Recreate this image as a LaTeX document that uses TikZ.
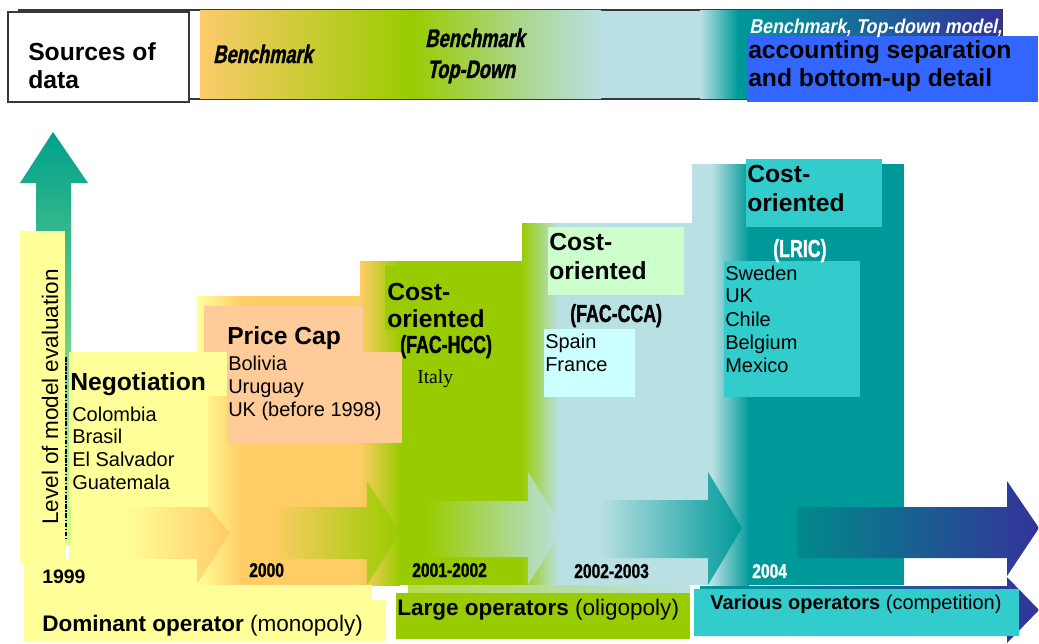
\documentclass[tikz,border=0pt]{standalone}
\usepackage{fontspec}
\setmainfont{Liberation Sans}
\newfontfamily\condf[FakeStretch=0.72,FakeBold=1.2]{Liberation Sans}
\newfontfamily\condsl[FakeStretch=0.72,FakeSlant=0.2,FakeBold=1.2]{Liberation Sans}
\newfontfamily\widesl[FakeStretch=0.89,FakeSlant=0.2]{Liberation Sans}
\newfontfamily\yearf[FakeStretch=0.78,FakeBold=1.2]{Liberation Sans}
\newfontfamily\serifrm{Liberation Serif}
\definecolor{yel}{HTML}{FFFF99}
\definecolor{org}{HTML}{FFCC66}
\definecolor{grn}{HTML}{99CC00}
\definecolor{lbl}{HTML}{B9E0E3}
\definecolor{teal}{HTML}{009999}
\definecolor{dblue}{HTML}{333399}
\definecolor{peach}{HTML}{FFCC99}
\definecolor{cyanb}{HTML}{33CCCC}
\definecolor{lgrn}{HTML}{CCFFCC}
\definecolor{lcyan}{HTML}{CCFFFF}
\definecolor{blueb}{HTML}{3366FF}
\definecolor{frame}{HTML}{383838}
\definecolor{barorg}{HTML}{FCCB6B}
\definecolor{barmid}{HTML}{ABD68C}
\tikzset{
  txt/.style={inner sep=0pt, anchor=base west, text=black},
  ttl/.style={txt, font=\fontsize{18.5pt}{22pt}\selectfont\bfseries},
  bod/.style={txt, font=\fontsize{15pt}{18pt}\selectfont},
  lab/.style={txt, font=\fontsize{16.9pt}{20pt}\selectfont},
  cnd/.style={txt, font=\condf\bfseries\fontsize{18.5pt}{21pt}\selectfont},
  yr/.style={txt, font=\yearf\bfseries\fontsize{15pt}{17pt}\selectfont},
  bm/.style={txt, font=\condsl\bfseries\fontsize{19pt}{22pt}\selectfont},
  wbm/.style={txt, text=white, font=\widesl\bfseries\fontsize{15pt}{18pt}\selectfont},
}
\begin{document}
\begin{tikzpicture}[x=0.75pt,y=-0.75pt]
\useasboundingbox (0,0) rectangle (1039,643);
\fill[white] (0,0) rectangle (1039,643);
% ---------- top bar ----------
\draw[line width=1pt, draw=frame, fill=white] (19,10) rectangle (1002,99);
\shade[left color=barorg, right color=grn] (200,10.6) rectangle (411,98.4);
\shade[left color=grn, right color=barmid] (410,10.6) rectangle (521,98.4);
\shade[left color=barmid, right color=lbl] (520,10.6) rectangle (601,98.4);
\fill[lbl] (600,10.6) rectangle (701,98.4);
\shade[left color=lbl, right color=teal] (700,10.6) rectangle (738,98.4);
\shade[left color=teal, right color=dblue] (737,10.6) rectangle (1001.5,98.4);
\draw[line width=1.2pt, draw=frame, fill=white] (8,12) rectangle (189,102);
\fill[blueb] (747,36) rectangle (1038,102);
\node[ttl] (src1) at (28,60) {Sources of};
\node[ttl] (src2) at (28,88) {data};
\node[bm] (bm1) at (213,63) {Benchmark};
\node[bm] (bm2) at (425,47) {Benchmark};
\node[bm] (bm3) at (427,78) {Top-Down};
\node[wbm] (bm4) at (749,33) {Benchmark, Top-down model,};
\node[ttl] (acc1) at (748,58) {accounting separation};
\node[ttl] (acc2) at (748,86) {and bottom-up detail};
% ---------- step columns ----------
\fill[yel] (69,352) rectangle (200,585);
\shade[left color=yel, right color=org] (197,296) rectangle (242,585);
\fill[org] (241,296) rectangle (362,585);
\shade[left color=org, right color=grn] (360,261) rectangle (400,585);
\fill[grn] (399,261) rectangle (530,585);
\shade[left color=grn, right color=lbl] (522,223) rectangle (558,585);
\fill[lbl] (557,223) rectangle (694,585);
\fill[lbl] (692,164) rectangle (713,585);
\shade[left color=lbl, right color=teal] (712,164) rectangle (749,585);
\fill[teal] (748,164) rectangle (904,585);
% ---------- vertical arrow ----------
\shade[top color=teal!92!green, bottom color=yel!85!green]
  (36,545) -- (36,183) -- (20,183) -- (53,132) -- (88,183) -- (71,183) -- (71,545) -- cycle;
% ---------- horizontal arrows ----------
\shade[left color=yel, right color=org]
  (124,507) -- (197,507) -- (197,493) -- (230,533) -- (197,584) -- (197,559) -- (124,559) -- cycle;
\shade[left color=org, right color=grn]
  (270,507) -- (367,507) -- (367,481) -- (400,532) -- (367,585) -- (367,559) -- (270,559) -- cycle;
\shade[left color=grn, right color=lbl]
  (425,501) -- (528,501) -- (528,472) -- (563,528) -- (528,585) -- (528,557) -- (425,557) -- cycle;
\shade[left color=lbl, right color=teal]
  (600,500) -- (708,500) -- (708,472) -- (742,528) -- (708,585) -- (708,558) -- (600,558) -- cycle;
\shade[left color=teal!90!black, right color=dblue]
  (797,507) -- (1007,507) -- (1007,481) -- (1039,528) -- (1007,576) -- (1007,558) -- (797,558) -- cycle;
\shade[left color=teal, right color=dblue]
  (700,586) -- (1007,586) -- (1007,577) -- (1039,610) -- (1007,643) -- (1007,636) -- (700,636) -- cycle;
% ---------- boxes ----------
\fill[yel] (20,231) rectangle (65,563);
\draw[line width=0.9pt, dash pattern=on 3.5pt off 1.2pt on 1pt off 1.2pt] (66,357) -- (66,540);
\fill[yel] (69,352) rectangle (227,396);
\fill[yel] (69,396) rectangle (208,507);
\fill[peach] (204,306) rectangle (363,352);
\fill[peach] (227,352) rectangle (402,443);
\fill[grn] (385,266) rectangle (475,330);
\fill[lgrn] (548,227) rectangle (684,295);
\fill[lcyan] (544,329) rectangle (635,397);
\fill[cyanb] (746,159) rectangle (882,227);
\fill[cyanb] (724,261) rectangle (860,397);
\fill[yel] (24,559) rectangle (195,600);
\fill[yel] (124,585) rectangle (372,602);
\fill[yel] (24,600) rectangle (386,642);
\shade[left color=grn!70!white, right color=lbl] (408,585) rectangle (690,593);
\fill[grn] (396,593) rectangle (690,639);
\fill[cyanb] (694,589) rectangle (1019,636);
% ---------- texts ----------
\node[lab, rotate=90, anchor=base] (lvl) at (58,397) {Level of model evaluation};
\node[ttl] (neg) at (70,390) {Negotiation};
\node[bod] (c1) at (72,421) {Colombia};
\node[bod] (c2) at (72,443.5) {Brasil};
\node[bod] (c3) at (72,466) {El Salvador};
\node[bod] (c4) at (72,489) {Guatemala};
\node[ttl] (pc) at (227,344) {Price Cap};
\node[bod] (p1) at (228,370) {Bolivia};
\node[bod] (p2) at (228,393) {Uruguay};
\node[bod] (p3) at (228,416) {UK (before 1998)};
\node[ttl] (co1a) at (387,300) {Cost-};
\node[ttl] (co1b) at (387,327) {oriented};
\node[cnd] (hcc) at (400,353) {(FAC-HCC)};
\node[txt, font=\serifrm\fontsize{14.7pt}{17pt}\selectfont] (ita) at (417,383) {Italy};
\node[ttl] (co2a) at (549,250) {Cost-};
\node[ttl] (co2b) at (549,279) {oriented};
\node[cnd] (cca) at (570,322) {(FAC-CCA)};
\node[bod] (s1) at (545,348) {Spain};
\node[bod] (s2) at (545,371) {France};
\node[ttl] (co3a) at (747,182) {Cost-};
\node[ttl] (co3b) at (747,211) {oriented};
\node[cnd, text=white] (lric) at (773,257) {(LRIC)};
\node[bod] (l1) at (725,280) {Sweden};
\node[bod] (l2) at (725,302) {UK};
\node[bod] (l3) at (725,326) {Chile};
\node[bod] (l4) at (725,349) {Belgium};
\node[bod] (l5) at (725,372) {Mexico};
\node[txt, font=\fontsize{14.6pt}{17pt}\selectfont\bfseries] (y99) at (42,583) {1999};
\node[yr] (y00) at (249,577) {2000};
\node[yr] (y01) at (412,577) {2001-2002};
\node[yr] (y02) at (574,578) {2002-2003};
\node[yr, text=white] (y04) at (752,578) {2004};
\node[lab] (dom) at (42,631) {\textbf{Dominant operator} (monopoly)};
\node[lab] (lrg) at (397,615) {\textbf{Large operators} (oligopoly)};
\node[txt, font=\fontsize{15pt}{18pt}\selectfont] (var) at (710,609) {\textbf{Various operators} (competition)};
\end{tikzpicture}
\end{document}
